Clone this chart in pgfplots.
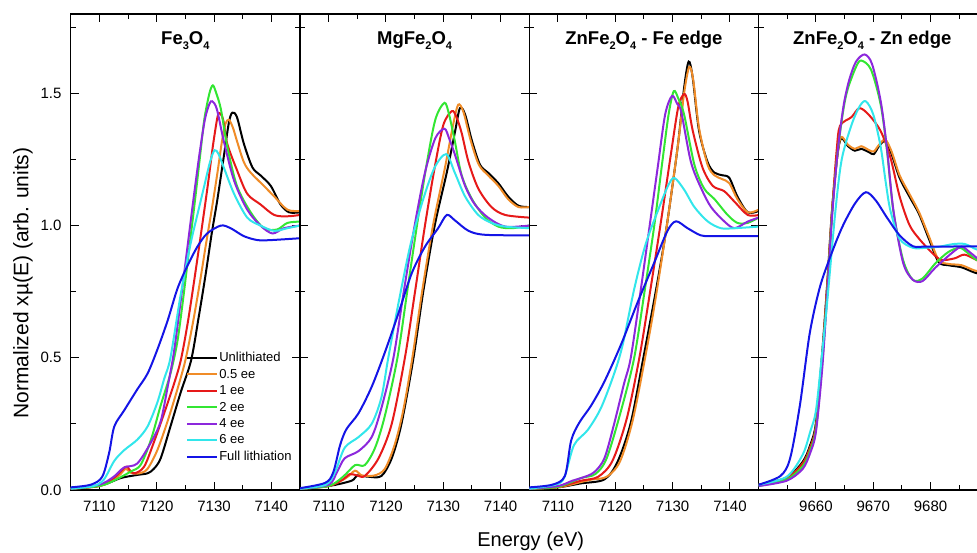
\documentclass[border=0pt]{standalone}
\usepackage{fontspec}
\setmainfont{Liberation Sans}
\usepackage{pgfplots}
\pgfplotsset{compat=1.18}

\definecolor{cOrange}{RGB}{240,140,40}
\definecolor{cRed}{RGB}{230,25,25}
\definecolor{cGreen}{RGB}{50,230,50}
\definecolor{cPurple}{RGB}{140,40,220}
\definecolor{cCyan}{RGB}{50,230,235}
\definecolor{cBlue}{RGB}{20,20,230}

\newcommand\sub[1]{\raisebox{-0.45ex}{\fontsize{11}{12}\selectfont #1}}
\newcommand\ttl[1]{\fontsize{18.5}{20}\selectfont\bfseries #1}

\pgfplotsset{
  panel/.style={
    scale only axis, width=229.3pt, height=476pt, anchor=south west,
    xmin=7105, xmax=7145, ymin=0, ymax=1.8,
    xtick={7110,7120,7130,7140}, xticklabels={7110,7120,7130,7140},
    minor xtick={7115,7125,7135},
    ytick={0,0.5,1,1.5}, minor ytick={0.25,0.75,1.25,1.75},
    yticklabels={},
    tick align=inside, major tick length=8pt, minor tick length=5pt,
    every tick/.style={black, line width=1pt},
    axis line style={line width=1.2pt},
    scaled x ticks=false,
    xticklabel style={font=\fontsize{15}{17}\selectfont, yshift=-7pt},
    yticklabel style={font=\fontsize{15}{17}\selectfont, xshift=-5.7pt},
    every axis plot/.append style={line width=2pt, smooth},
  },
}

\begin{document}
\begin{tikzpicture}
\path[use as bounding box] (-70.7pt,-63pt) rectangle (906.3pt,490pt);

% ---------------- Fe3O4 ----------------
\begin{axis}[panel, at={(0pt,0pt)},
  yticklabels={0.0,0.5,1.0,1.5},
  legend style={at={(0.49,0.296)}, anchor=north west, draw=none, fill=none,
    font=\fontsize{13}{15}\selectfont, row sep=3.9pt,
    nodes={inner sep=1pt}},
  legend cell align=left,
  legend image code/.code={\draw[#1] (0pt,0pt) -- (30pt,0pt);},
]
\addplot[black] coordinates {(7105,0.005) (7108,0.01) (7110.8,0.02) (7113.7,0.045) (7116.6,0.057) (7118.4,0.063) (7119.5,0.08) (7120.7,0.12) (7122.4,0.24) (7124.2,0.37) (7126,0.49) (7127.3,0.65) (7128.5,0.81) (7129.6,0.97) (7130.6,1.1) (7131.7,1.26) (7132.6,1.39) (7133.2,1.427) (7134,1.41) (7135.2,1.31) (7136.7,1.22) (7138.1,1.19) (7139.9,1.15) (7141.6,1.08) (7143.1,1.05) (7145,1.05)};
\addlegendentry{Unlithiated}
\addplot[cOrange] coordinates {(7105,0.005) (7110,0.015) (7112.5,0.04) (7113.7,0.06) (7114.6,0.08) (7115.5,0.065) (7117,0.063) (7118.4,0.08) (7120.1,0.15) (7121.9,0.26) (7123.6,0.38) (7125,0.49) (7126.3,0.63) (7127.5,0.78) (7128.6,0.93) (7129.6,1.06) (7130.6,1.2) (7131.4,1.32) (7132,1.385) (7132.6,1.40) (7133.3,1.37) (7134,1.32) (7135.2,1.24) (7136.4,1.20) (7138.7,1.15) (7140.5,1.11) (7142.8,1.06) (7145,1.055)};
\addlegendentry{0.5 ee}
\addplot[cRed] coordinates {(7105,0.005) (7110,0.015) (7112.5,0.045) (7114.2,0.08) (7114.8,0.088) (7116,0.063) (7117.8,0.088) (7119.5,0.18) (7121.3,0.29) (7123,0.40) (7124.2,0.49) (7125.4,0.63) (7126.6,0.8) (7127.8,0.98) (7128.9,1.15) (7129.8,1.3) (7130.6,1.41) (7131,1.425) (7131.6,1.40) (7132.3,1.31) (7134,1.21) (7135.8,1.12) (7138.1,1.08) (7140.5,1.04) (7142.8,1.035) (7145,1.04)};
\addlegendentry{1 ee}
\addplot[cGreen] coordinates {(7105,0.005) (7110,0.015) (7112.5,0.035) (7115.5,0.07) (7117.2,0.095) (7119,0.19) (7120.7,0.32) (7122.4,0.44) (7123.6,0.56) (7124.6,0.72) (7125.6,0.9) (7126.6,1.08) (7127.5,1.25) (7128.3,1.4) (7129.2,1.5) (7129.8,1.53) (7130.4,1.5) (7131.2,1.44) (7132.3,1.30) (7134,1.15) (7136.4,1.05) (7138.7,0.99) (7141,0.985) (7142.8,1.01) (7145,1.015)};
\addlegendentry{2 ee}
\addplot[cPurple] coordinates {(7105,0.005) (7110,0.02) (7112.5,0.05) (7114.3,0.085) (7116.6,0.1) (7119,0.18) (7120.7,0.26) (7122,0.4) (7123,0.52) (7124.1,0.7) (7125.2,0.89) (7126.3,1.08) (7127.4,1.26) (7128.4,1.4) (7129.2,1.46) (7129.7,1.47) (7130.5,1.44) (7131.7,1.32) (7133.5,1.17) (7135.8,1.06) (7138.1,1.0) (7140.2,0.97) (7142.2,0.99) (7145,1.0)};
\addlegendentry{4 ee}
\addplot[cCyan] coordinates {(7105,0.005) (7109,0.015) (7110.8,0.04) (7112.6,0.11) (7114.3,0.15) (7116.6,0.19) (7118.4,0.24) (7120.1,0.33) (7121.3,0.42) (7122.4,0.5) (7124.2,0.74) (7125.9,0.93) (7127.2,1.05) (7128.3,1.15) (7129.3,1.24) (7130.1,1.285) (7130.8,1.27) (7131.7,1.22) (7133.5,1.12) (7135.8,1.03) (7138.1,1.0) (7140.5,0.98) (7142.8,0.99) (7145,1.0)};
\addlegendentry{6 ee}
\addplot[cBlue] coordinates {(7105,0.01) (7108.5,0.02) (7110.5,0.05) (7111.7,0.14) (7112.6,0.24) (7114.3,0.30) (7116.6,0.38) (7118.4,0.44) (7120.1,0.53) (7121.9,0.64) (7123.6,0.76) (7125.3,0.845) (7127.1,0.92) (7128.8,0.97) (7131.2,1.0) (7132.9,0.99) (7135.2,0.96) (7137.6,0.945) (7139.9,0.945) (7145,0.952)};
\addlegendentry{Full lithiation}
\node[anchor=base] at (rel axis cs:0.5,1) [yshift=-31pt] {\ttl{Fe\sub{3}O\sub{4}}};
\end{axis}

% ---------------- MgFe2O4 ----------------
\begin{axis}[panel, at={(229.3pt,0pt)}]
\addplot[black] coordinates {(7105,0.005) (7110,0.015) (7114,0.035) (7115,0.055) (7117,0.05) (7119.2,0.053) (7121,0.12) (7122.7,0.25) (7124.8,0.5) (7126.5,0.75) (7128.5,1.0) (7130.6,1.2) (7132,1.35) (7132.9,1.444) (7133.8,1.42) (7135,1.32) (7136.4,1.23) (7137.8,1.20) (7139.6,1.16) (7141.3,1.11) (7143.1,1.075) (7145,1.07)};
\addplot[cOrange] coordinates {(7105,0.005) (7110,0.015) (7113,0.045) (7114.6,0.073) (7115.8,0.055) (7118,0.055) (7119.8,0.08) (7121.5,0.17) (7123,0.3) (7124.6,0.5) (7126.3,0.75) (7128.2,1.0) (7130.3,1.22) (7131.7,1.38) (7132.6,1.457) (7133.5,1.43) (7134.8,1.32) (7136.2,1.23) (7137.8,1.19) (7139.6,1.15) (7141.3,1.10) (7143.1,1.07) (7145,1.07)};
\addplot[cRed] coordinates {(7105,0.005) (7110,0.015) (7112.5,0.04) (7113.7,0.06) (7115,0.055) (7116.3,0.053) (7118.7,0.12) (7121,0.25) (7123.3,0.5) (7125,0.74) (7126.8,1.0) (7128.5,1.22) (7130,1.38) (7131.5,1.433) (7132.3,1.41) (7133.2,1.35) (7134.4,1.24) (7136.1,1.14) (7138.4,1.07) (7140.8,1.04) (7145,1.03)};
\addplot[cGreen] coordinates {(7105,0.005) (7110,0.015) (7112.5,0.05) (7114.6,0.094) (7116.3,0.094) (7118.1,0.16) (7119.8,0.28) (7122,0.5) (7123.7,0.75) (7125.4,1.0) (7127,1.22) (7128.6,1.4) (7130.2,1.464) (7131,1.42) (7132,1.32) (7133.2,1.19) (7135,1.10) (7137.3,1.03) (7139.6,0.996) (7142,0.99) (7145,1.0)};
\addplot[cPurple] coordinates {(7105,0.005) (7110,0.02) (7111.5,0.07) (7112.8,0.12) (7115.2,0.147) (7117.5,0.2) (7119.2,0.31) (7121.3,0.5) (7123.1,0.75) (7125,1.0) (7126.8,1.2) (7128.6,1.33) (7130.2,1.366) (7131,1.33) (7132,1.27) (7133.8,1.15) (7135.5,1.08) (7137.8,1.03) (7140.8,0.996) (7145,1.0)};
\addplot[cCyan] coordinates {(7105,0.005) (7109.5,0.02) (7111.1,0.067) (7112.8,0.16) (7115.2,0.2) (7117.5,0.25) (7119.2,0.35) (7120.4,0.5) (7122.3,0.72) (7124.3,0.93) (7126.5,1.1) (7128.5,1.22) (7130.5,1.27) (7132,1.2) (7133.8,1.11) (7136.1,1.04) (7138.4,1.01) (7140.8,0.996) (7145,0.99)};
\addplot[cBlue] coordinates {(7105,0.007) (7109.4,0.027) (7110.8,0.067) (7112,0.17) (7113.1,0.23) (7115.2,0.29) (7117.5,0.39) (7119.8,0.52) (7122.2,0.67) (7124.5,0.82) (7126.8,0.92) (7129.1,0.99) (7130.6,1.04) (7132,1.02) (7134.4,0.98) (7137.3,0.965) (7145,0.963)};
\node[anchor=base] at (rel axis cs:0.5,1) [yshift=-31pt] {\ttl{MgFe\sub{2}O\sub{4}}};
\end{axis}

% ---------------- ZnFe2O4, Fe edge ----------------
\begin{axis}[panel, at={(458.6pt,0pt)}]
\addplot[black] coordinates {(7105,0.005) (7110,0.01) (7114,0.025) (7118.1,0.04) (7120.4,0.107) (7122.7,0.254) (7124.9,0.5) (7126.8,0.72) (7128.1,0.88) (7129.1,1.016) (7130.9,1.3) (7132,1.52) (7132.8,1.62) (7133.5,1.56) (7134.6,1.36) (7136.1,1.24) (7137.3,1.2) (7138.7,1.19) (7139.9,1.18) (7141.3,1.11) (7143.1,1.05) (7145,1.055)};
\addplot[cOrange] coordinates {(7105,0.005) (7110,0.01) (7114,0.03) (7116,0.04) (7118.5,0.05) (7120.8,0.107) (7123,0.26) (7125.2,0.5) (7127,0.72) (7129.1,1.016) (7130.9,1.3) (7132,1.5) (7132.9,1.60) (7133.6,1.55) (7134.6,1.37) (7136.1,1.23) (7137.3,1.19) (7138.7,1.175) (7139.9,1.16) (7141.3,1.1) (7143.1,1.05) (7145,1.06)};
\addplot[cRed] coordinates {(7105,0.005) (7110,0.012) (7114,0.035) (7117,0.05) (7119.5,0.11) (7122,0.27) (7124.2,0.5) (7126,0.74) (7128,1.02) (7129.7,1.27) (7131,1.45) (7132,1.497) (7132.6,1.47) (7133.5,1.36) (7135.2,1.22) (7137,1.15) (7139,1.13) (7140.8,1.09) (7143.1,1.04) (7145,1.04)};
\addplot[cGreen] coordinates {(7105,0.005) (7110,0.012) (7114,0.045) (7116.5,0.06) (7118.5,0.12) (7121,0.3) (7123.3,0.5) (7125.1,0.75) (7126.8,1.0) (7128.2,1.24) (7129.3,1.42) (7130.2,1.508) (7131,1.48) (7132,1.42) (7133.8,1.23) (7135.5,1.14) (7137.3,1.10) (7139.6,1.04) (7141.3,1.01) (7143.1,1.01) (7145,1.03)};
\addplot[cPurple] coordinates {(7105,0.005) (7110,0.015) (7112.5,0.035) (7114.3,0.047) (7116.3,0.067) (7118.1,0.12) (7119.8,0.25) (7121.5,0.4) (7122.7,0.5) (7124.4,0.75) (7126,1.0) (7127.4,1.22) (7128.7,1.42) (7129.9,1.49) (7130.8,1.46) (7131.5,1.43) (7133.2,1.24) (7135,1.14) (7136.7,1.07) (7139,1.016) (7140.8,0.99) (7143.1,1.015) (7145,1.03)};
\addplot[cCyan] coordinates {(7105,0.005) (7109.5,0.02) (7111.1,0.047) (7112.8,0.17) (7115.2,0.227) (7117.5,0.31) (7119.8,0.44) (7121.3,0.55) (7123.3,0.76) (7125.3,0.93) (7127.5,1.06) (7129.2,1.15) (7130.3,1.18) (7132,1.136) (7133.8,1.07) (7136.1,1.016) (7138.4,0.99) (7140.8,0.99) (7145,0.996)};
\addplot[cBlue] coordinates {(7105,0.01) (7109,0.02) (7111.2,0.053) (7112.3,0.187) (7113.7,0.254) (7115.8,0.32) (7118.1,0.41) (7121,0.55) (7123.9,0.71) (7126.8,0.86) (7129.1,0.98) (7130.6,1.016) (7132.6,0.99) (7134.9,0.963) (7137,0.96) (7145,0.96)};
\node[anchor=base] at (rel axis cs:0.5,1) [yshift=-31pt] {\ttl{ZnFe\sub{2}O\sub{4} - Fe edge}};
\end{axis}

% ---------------- ZnFe2O4, Zn edge ----------------
\begin{axis}[panel, at={(687.9pt,0pt)},
  xmin=9650, xmax=9690,
  xtick={9660,9670,9680}, xticklabels={9660,9670,9680},
  minor xtick={9655,9665,9675,9685}]
\addplot[black] coordinates {(9650,0.02) (9654.9,0.047) (9657.7,0.107) (9659,0.17) (9660,0.254) (9661.1,0.52) (9662,0.79) (9662.8,1.056) (9663.7,1.257) (9664.4,1.33) (9665.6,1.30) (9666.8,1.283) (9667.9,1.29) (9669.3,1.277) (9670.1,1.27) (9671,1.30) (9672.1,1.32) (9673.2,1.27) (9674.6,1.18) (9676.3,1.11) (9678,1.043) (9679.7,0.95) (9681.4,0.862) (9683.1,0.85) (9685.4,0.842) (9687.7,0.822) (9690,0.81)};
\addplot[cOrange] coordinates {(9650,0.02) (9654.9,0.045) (9657.7,0.1) (9659,0.16) (9660,0.24) (9661.1,0.5) (9662,0.78) (9662.8,1.05) (9663.7,1.26) (9664.4,1.335) (9665.6,1.305) (9666.8,1.29) (9667.9,1.3) (9669.3,1.285) (9670.1,1.28) (9671,1.305) (9672.1,1.325) (9673.2,1.28) (9674.6,1.19) (9676.3,1.12) (9678,1.05) (9679.7,0.96) (9681.4,0.87) (9683.1,0.855) (9685.4,0.85) (9687.7,0.83) (9690,0.82)};
\addplot[cRed] coordinates {(9650,0.02) (9654.9,0.045) (9657.7,0.1) (9659,0.16) (9660,0.24) (9661.1,0.5) (9662,0.78) (9662.8,1.05) (9663.6,1.28) (9664.2,1.377) (9666.2,1.41) (9667.6,1.444) (9669.3,1.417) (9671.3,1.357) (9673,1.257) (9674.6,1.11) (9676.3,1.003) (9678,0.95) (9680.3,0.896) (9681.9,0.87) (9684.2,0.876) (9685.9,0.89) (9688,0.87) (9690,0.85)};
\addplot[cGreen] coordinates {(9650,0.015) (9654.9,0.04) (9657.7,0.09) (9659,0.15) (9660,0.23) (9661.1,0.48) (9662,0.76) (9662.8,1.04) (9663.8,1.28) (9664.8,1.44) (9665.6,1.52) (9667,1.6) (9667.9,1.624) (9669.6,1.59) (9671.3,1.457) (9672.4,1.283) (9673.5,1.056) (9675.2,0.87) (9676.9,0.795) (9678.6,0.80) (9680.8,0.856) (9683.1,0.90) (9685.1,0.916) (9686.5,0.896) (9688,0.87) (9690,0.85)};
\addplot[cPurple] coordinates {(9650,0.015) (9654.9,0.035) (9657.7,0.08) (9659,0.14) (9660,0.22) (9661.1,0.46) (9662,0.75) (9662.8,1.03) (9663.8,1.28) (9664.8,1.45) (9665.8,1.55) (9667,1.62) (9668.5,1.647) (9669.8,1.61) (9671.3,1.47) (9672.4,1.29) (9673.5,1.06) (9675.2,0.86) (9676.9,0.795) (9678.6,0.79) (9680.8,0.84) (9683.7,0.896) (9685.4,0.92) (9686.8,0.9) (9688.5,0.87) (9690,0.85)};
\addplot[cCyan] coordinates {(9650,0.02) (9654.9,0.05) (9657.7,0.134) (9659,0.22) (9660,0.3) (9661,0.5) (9662,0.72) (9663.4,1.056) (9664.5,1.25) (9666.2,1.38) (9667.6,1.45) (9668.7,1.47) (9670,1.42) (9671.3,1.297) (9672.2,1.16) (9673,1.056) (9674.6,0.95) (9676.9,0.916) (9679.2,0.916) (9681.5,0.92) (9684,0.93) (9686,0.93) (9688,0.91) (9690,0.9)};
\addplot[cBlue] coordinates {(9650,0.02) (9653.8,0.053) (9655.5,0.12) (9657.2,0.32) (9658.9,0.59) (9660.6,0.76) (9662.3,0.87) (9664.5,0.99) (9666.8,1.083) (9668.7,1.126) (9670.4,1.096) (9672.4,1.03) (9674.6,0.963) (9676.9,0.922) (9679,0.92) (9690,0.922)};
\node[anchor=base] at (rel axis cs:0.5,1) [yshift=-31pt,xshift=-1pt] {\ttl{ZnFe\sub{2}O\sub{4} - Zn edge}};
\end{axis}

% shared axis labels
\node[anchor=base, font=\fontsize{20}{22}\selectfont] at (460pt,-57pt) {Energy (eV)};
\node[rotate=90, font=\fontsize{21}{23}\selectfont] at (-47.7pt,207pt) {Normalized x\textmu(E) (arb. units)};
\end{tikzpicture}
\end{document}
